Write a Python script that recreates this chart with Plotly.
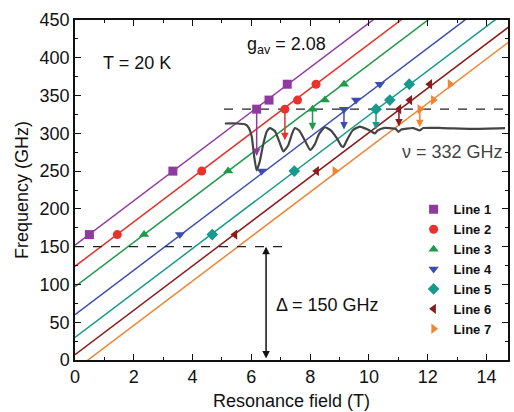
import plotly.graph_objects as go

# ---------------- data ----------------
line_names = ["Line 1", "Line 2", "Line 3", "Line 4", "Line 5", "Line 6", "Line 7"]
line_colors = ["#8e3a9f", "#e8322b", "#1f9a4c", "#3b4db3", "#17998c", "#8c1c1c", "#f28432"]
line_symbols = ["square", "circle", "triangle-up", "triangle-down", "diamond",
                "triangle-left", "triangle-right"]

# fitted lines: zero-field intercept (GHz) and common slope (GHz/T)
line_intercepts = [152, 124, 97, 60, 30, 7, -13]
slope_ghz_per_t = 29.4
field_span = [0.0, 15.0]

# measured resonances: field (T) and frequency (GHz) per line
freq_levels = [166, 250, 332, 344, 365]
fields = [
    [0.49, 3.33, 6.18, 6.60, 7.22],
    [1.44, 4.31, 7.14, 7.57, 8.20],
    [2.35, 5.21, 8.08, 8.50, 9.15],
    [3.57, 6.35, 9.15, 9.56, 10.37],
    [4.67, 7.46, 10.24, 10.71, 11.37],
    [5.44, 8.22, 11.02, 11.39, 12.07],
    [None, 8.84, 11.73, 12.19, 12.76],
]
line7_freqs = [None, 250, 332, 344, 365]

# arrows from the 332 GHz resonance down to the spectrum dips
arrow_fields = [6.18, 7.14, 8.08, 9.15, 10.24, 11.02, 11.73]
arrow_ends = [270, 291, 304, 305, 305, 309, 308]

# ESR spectrum at 332 GHz (field T, plotted offset in GHz units)
spec_b = [5.10, 5.50, 5.78, 5.90, 6.01, 6.10, 6.18, 6.28, 6.40, 6.52, 6.63, 6.80,
          6.95, 7.09, 7.25, 7.38, 7.48, 7.62, 7.80, 8.00, 8.15, 8.30, 8.50, 8.70,
          8.90, 9.05, 9.13, 9.25, 9.45, 9.69, 9.90, 10.10, 10.20, 10.30, 10.50,
          10.90, 11.00, 11.10, 11.50, 11.73, 11.85, 12.50, 13.50, 14.63]
spec_y = [313, 313, 312, 308, 296, 268, 251, 262, 285, 302, 307, 303,
          289, 276, 284, 299, 307, 304, 292, 278, 285, 299, 308, 304,
          294, 284, 282, 291, 304, 309, 306, 302, 300, 304, 307,
          306, 302, 305, 307, 304, 307, 307, 306, 307]

nu_level = 332
delta = 150
delta_field = 6.5

# ---------------- figure ----------------
FONT = "Liberation Sans, Arial, sans-serif"
fig = go.Figure()

for i in range(7):
    fig.add_trace(go.Scatter(
        x=field_span,
        y=[line_intercepts[i] + slope_ghz_per_t * b for b in field_span],
        mode="lines", line=dict(color=line_colors[i], width=1.5),
        showlegend=False, hoverinfo="skip"))

# dashed reference lines
fig.add_trace(go.Scatter(x=[5.07, 14.73], y=[nu_level, nu_level], mode="lines",
                         line=dict(color="#222", width=1.3, dash="dash"),
                         showlegend=False))
fig.add_trace(go.Scatter(x=[0, 7.2], y=[delta, delta], mode="lines",
                         line=dict(color="#222", width=1.3, dash="dash"),
                         showlegend=False))

# spectrum
fig.add_trace(go.Scatter(x=spec_b, y=spec_y, mode="lines",
                         line=dict(color="#444444", width=2.2, shape="spline", smoothing=0.5),
                         showlegend=False))

for i in range(7):
    fy = line7_freqs if i == 6 else freq_levels
    xs = [b for b, f in zip(fields[i], fy) if b is not None]
    ys = [f for b, f in zip(fields[i], fy) if b is not None]
    fig.add_trace(go.Scatter(
        x=xs, y=ys, mode="markers", name=line_names[i],
        marker=dict(symbol=line_symbols[i], color=line_colors[i], size=9,
                    line=dict(width=0))))

annotations = []
for i in range(7):
    annotations.append(dict(
        x=arrow_fields[i], y=arrow_ends[i], ax=arrow_fields[i], ay=nu_level,
        xref="x", yref="y", axref="x", ayref="y", showarrow=True,
        arrowhead=2, arrowsize=1, arrowwidth=1.5, arrowcolor=line_colors[i], text=""))

annotations.append(dict(
    x=delta_field, y=delta, ax=delta_field, ay=0, xref="x", yref="y",
    axref="x", ayref="y", showarrow=True, arrowhead=2, startarrowhead=2,
    arrowside="end+start", arrowsize=1, arrowwidth=1.5, arrowcolor="#111", text=""))

annotations += [
    dict(x=2.1, y=393, xref="x", yref="y", text="T = 20 K", showarrow=False,
         font=dict(size=18, color="#111", family=FONT)),
    dict(x=7.2, y=416, xref="x", yref="y", text="g<sub>av</sub> = 2.08", showarrow=False,
         font=dict(size=18, color="#111", family=FONT)),
    dict(x=8.6, y=73, xref="x", yref="y", text="Δ = 150 GHz", showarrow=False,
         font=dict(size=18, color="#111", family=FONT)),
    dict(x=12.85, y=275, xref="x", yref="y", text="ν = 332 GHz", showarrow=False,
         font=dict(size=18, color="#444", family=FONT)),
]

axis_common = dict(showline=True, linecolor="#111", linewidth=1.5, mirror="ticks",
                   ticks="inside", ticklen=6, tickwidth=1.3, tickcolor="#111",
                   showgrid=False, zeroline=False, automargin=False,
                   tickfont=dict(size=18, color="#111", family=FONT))

fig.update_layout(
    width=514, height=412,
    margin=dict(l=75, r=6, t=20, b=52),
    paper_bgcolor="white", plot_bgcolor="white",
    font=dict(family=FONT, color="#111"),
    xaxis=dict(range=[0, 14.73], dtick=2, tick0=0,
               minor=dict(ticks="inside", dtick=1, ticklen=3, tickcolor="#111"),
               title=dict(text="Resonance field (T)", font=dict(size=18), standoff=8),
               **axis_common),
    yaxis=dict(range=[0, 450], dtick=50, tick0=0,
               minor=dict(ticks="inside", dtick=25, ticklen=3, tickcolor="#111"),
               title=dict(text="Frequency (GHz)", font=dict(size=18), standoff=6),
               **axis_common),
    legend=dict(x=0.782, y=0.487, xanchor="left", yanchor="top",
                bgcolor="rgba(0,0,0,0)",
                font=dict(size=13, family=FONT, color="#111", weight="bold"),
                tracegroupgap=0),
    annotations=annotations,
)

fig.write_html("out.html", config={"displayModeBar": False},
               post_script="document.body.style.margin='0';document.body.style.padding='0';")
